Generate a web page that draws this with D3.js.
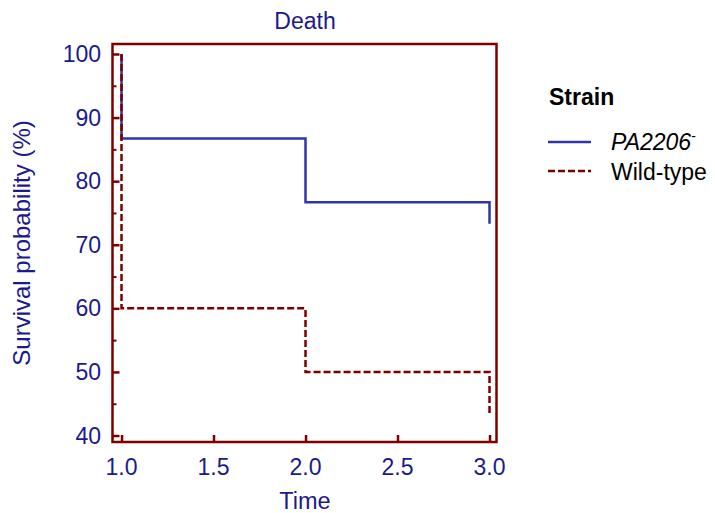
<!DOCTYPE html>
<html>
<head>
<meta charset="utf-8">
<script src="https://cdn.jsdelivr.net/npm/d3@7"></script>
<style>
  body { margin: 0; background: #fff; }
  text { font-family: "Liberation Sans", Arial, sans-serif; }
</style>
</head>
<body>
<svg width="715" height="513"></svg>
<script>
// Survival data (step curves, each event time with the value after it)
var times = [1, 1, 2, 3];
var pa2206 = [100, 86.7, 76.7, 73.3];
var wildType = [100, 60, 50, 43.3];

var xTicks = [1.0, 1.5, 2.0, 2.5, 3.0];
var yTicks = [40, 50, 60, 70, 80, 90, 100];
var yMinor = [45, 55, 65, 75, 85, 95];

var textBlue = '#1a1a8c';
var lineBlue = '#3333aa';
var darkRed = '#7d0000';

var svg = d3.select('svg');

// Plot frame
var box = {l: 112.5, r: 496.5, t: 44, b: 442};

var xScale = d3.scaleLinear()
    .domain([0.951, 3.038])
    .range([box.l, box.r]);

var yScale = d3.scaleLinear()
    .domain([38.98, 101.57])
    .range([box.b, box.t]);

// ticks inside the box
var xAxis = d3.axisTop(xScale)
    .tickValues(xTicks)
    .tickSize(7)
    .tickFormat('');
svg.append('g')
    .attr('transform', 'translate(0,' + box.b + ')')
    .call(xAxis)
    .call(function(g) {
        g.select('.domain').remove();
        g.selectAll('line').attr('stroke', darkRed).attr('stroke-width', 2.5);
    });

var yAxis = d3.axisRight(yScale)
    .tickValues(yTicks)
    .tickSize(7)
    .tickFormat('');
svg.append('g')
    .attr('transform', 'translate(' + box.l + ',0)')
    .call(yAxis)
    .call(function(g) {
        g.select('.domain').remove();
        g.selectAll('line').attr('stroke', darkRed).attr('stroke-width', 2.5);
    });

var yAxisMinor = d3.axisRight(yScale)
    .tickValues(yMinor)
    .tickSize(4)
    .tickFormat('');
svg.append('g')
    .attr('transform', 'translate(' + box.l + ',0)')
    .call(yAxisMinor)
    .call(function(g) {
        g.select('.domain').remove();
        g.selectAll('line').attr('stroke', darkRed).attr('stroke-width', 2);
    });

// tick labels
svg.append('g').selectAll('text')
    .data(xTicks)
    .enter().append('text')
    .attr('x', function(d) { return xScale(d); })
    .attr('y', 475)
    .attr('text-anchor', 'middle')
    .attr('font-size', 23)
    .attr('fill', textBlue)
    .text(function(d) { return d3.format('.1f')(d); });

svg.append('g').selectAll('text')
    .data(yTicks)
    .enter().append('text')
    .attr('x', 101)
    .attr('y', function(d) { return yScale(d) + 8; })
    .attr('text-anchor', 'end')
    .attr('font-size', 23)
    .attr('fill', textBlue)
    .text(function(d) { return d; });

// curves
var line = d3.line()
    .x(function(d) { return xScale(d[0]); })
    .y(function(d) { return yScale(d[1]); })
    .curve(d3.curveStepAfter);

svg.append('path')
    .datum(d3.zip(times, pa2206))
    .attr('d', line)
    .attr('fill', 'none')
    .attr('stroke', lineBlue)
    .attr('stroke-width', 2.5);

svg.append('path')
    .datum(d3.zip(times, wildType))
    .attr('d', line)
    .attr('fill', 'none')
    .attr('stroke', darkRed)
    .attr('stroke-width', 2.5)
    .attr('stroke-dasharray', '7,3');

// frame
svg.append('rect')
    .attr('x', box.l)
    .attr('y', box.t)
    .attr('width', box.r - box.l)
    .attr('height', box.b - box.t)
    .attr('fill', 'none')
    .attr('stroke', darkRed)
    .attr('stroke-width', 2.5);

// titles
svg.append('text')
    .attr('x', 305)
    .attr('y', 29)
    .attr('text-anchor', 'middle')
    .attr('font-size', 23)
    .attr('fill', textBlue)
    .text('Death');

svg.append('text')
    .attr('x', 305)
    .attr('y', 509)
    .attr('text-anchor', 'middle')
    .attr('font-size', 23.5)
    .attr('fill', textBlue)
    .text('Time');

svg.append('text')
    .attr('transform', 'translate(30,' + ((box.t + box.b) / 2) + ') rotate(-90)')
    .attr('text-anchor', 'middle')
    .attr('font-size', 24)
    .attr('fill', textBlue)
    .text('Survival probability (%)');

// legend
var legend = svg.append('g');
legend.append('text')
    .attr('x', 549)
    .attr('y', 105)
    .attr('font-size', 23)
    .attr('font-weight', 'bold')
    .attr('fill', '#000')
    .text('Strain');

legend.append('line')
    .attr('x1', 548).attr('x2', 591)
    .attr('y1', 142).attr('y2', 142)
    .attr('stroke', lineBlue)
    .attr('stroke-width', 2.5);

legend.append('line')
    .attr('x1', 548).attr('x2', 591)
    .attr('y1', 171).attr('y2', 171)
    .attr('stroke', darkRed)
    .attr('stroke-width', 2.5)
    .attr('stroke-dasharray', '7,3');

var lab = legend.append('text')
    .attr('x', 611)
    .attr('y', 150)
    .attr('font-size', 23)
    .attr('fill', '#000');
lab.append('tspan').attr('font-style', 'italic').text('PA2206');
lab.append('tspan').attr('font-size', 14).attr('dy', -9).text('-');

legend.append('text')
    .attr('x', 611)
    .attr('y', 180)
    .attr('font-size', 23)
    .attr('fill', '#000')
    .text('Wild-type');
</script>
</body>
</html>
